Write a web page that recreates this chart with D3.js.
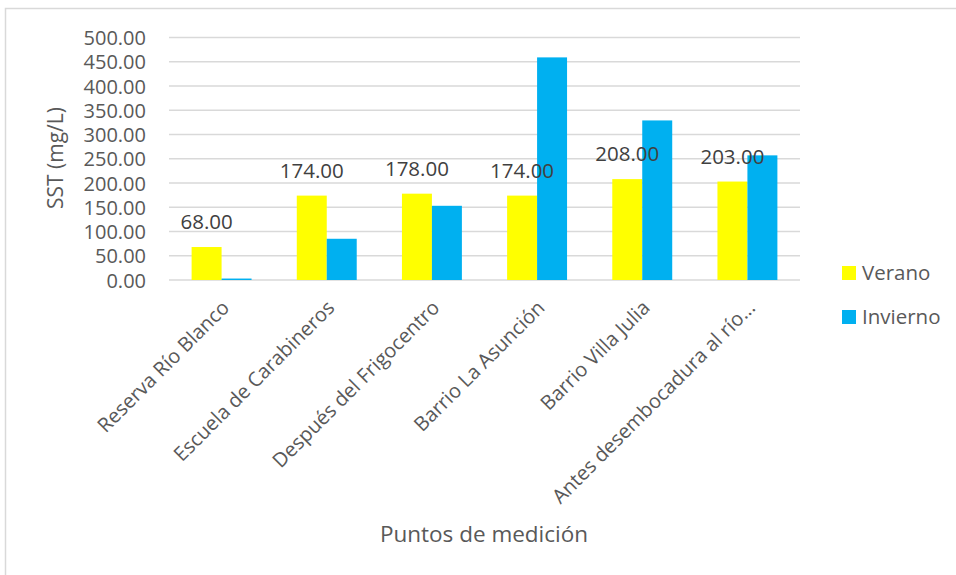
<!DOCTYPE html>
<html>
<head>
<meta charset="utf-8">
<script src="https://cdn.jsdelivr.net/npm/d3@7"></script>
<style>
  html, body { margin: 0; padding: 0; background: #fff; }
  svg { display: block; font-family: "Open Sans", "Noto Sans", sans-serif; }
</style>
</head>
<body>
<svg id="chart" width="956" height="575"></svg>
<script>
// Measurement points (x axis categories)
const categories = [
  "Reserva Río Blanco",
  "Escuela de Carabineros",
  "Después del Frigocentro",
  "Barrio La Asunción",
  "Barrio Villa Julia",
  "Antes desembocadura al río..."
];
// Series names
const seriesNames = ["Verano", "Invierno"];
// SST (mg/L) per season
const verano = [68, 174, 178, 174, 208, 203];
const invierno = [3, 85, 153, 459, 329, 257];
// Y axis ticks
const yTicks = [0, 50, 100, 150, 200, 250, 300, 350, 400, 450, 500];

const colors = { Verano: "#FFFF00", Invierno: "#00B0F0" };
const seriesValues = { Verano: verano, Invierno: invierno };

const svg = d3.select("#chart");

// Chart area frame (top and left edges visible)
svg.append("path")
  .attr("d", "M5.5,575 L5.5,8.5 L956,8.5")
  .attr("fill", "none")
  .attr("stroke", "#d9d9d9")
  .attr("stroke-width", 1.5);

const plot = { left: 169, right: 800, top: 37.5, bottom: 280 };

const y = d3.scaleLinear().domain([0, 500]).range([plot.bottom, plot.top]);
const x0 = d3.scaleBand().domain(categories)
  .range([plot.left, plot.right])
  .paddingInner(0.43).paddingOuter(0.215);
const x1 = d3.scaleBand().domain(seriesNames).range([0, x0.bandwidth()]);

// Gridlines
svg.append("g").selectAll("line").data(yTicks).join("line")
  .attr("x1", plot.left).attr("x2", plot.right)
  .attr("y1", d => y(d)).attr("y2", d => y(d))
  .attr("stroke", "#d9d9d9").attr("stroke-width", 1.3);

// Y axis tick labels
const yAxis = d3.axisLeft(y).tickValues(yTicks).tickFormat(d3.format(".2f")).tickSize(0).tickPadding(0);
const yg = svg.append("g").attr("transform", `translate(146,0)`).call(yAxis);
yg.select(".domain").remove();
yg.selectAll("text")
  .attr("fill", "#595959")
  .style("font-size", "20px")
  .style("font-family", "'Open Sans', sans-serif")
  .attr("dy", "0.35em");

// Bars
const groups = svg.append("g").selectAll("g").data(categories).join("g")
  .attr("transform", d => `translate(${x0(d)},0)`);
groups.selectAll("rect")
  .data((d, i) => seriesNames.map(s => ({ s, v: seriesValues[s][i] })))
  .join("rect")
  .attr("x", d => x1(d.s))
  .attr("width", x1.bandwidth())
  .attr("y", d => y(d.v))
  .attr("height", d => y(0) - y(d.v))
  .attr("fill", d => colors[d.s]);

// Data labels on the Verano series
svg.append("g").selectAll("text").data(verano).join("text")
  .attr("x", (d, i) => x0(categories[i]) + x1("Verano") + x1.bandwidth() / 2)
  .attr("y", d => y(d) - 18)
  .attr("text-anchor", "middle")
  .attr("fill", "#404040")
  .style("font-size", "20.5px")
  .text(d => d3.format(".2f")(d));

// X axis category labels, rotated
const xg = svg.append("g");
xg.selectAll("text").data(categories).join("text")
  .attr("transform", d => `translate(${x0(d) + x0.bandwidth() / 2 + 4},304) rotate(-45)`)
  .attr("text-anchor", "end")
  .attr("dy", "0.35em")
  .attr("fill", "#595959")
  .style("font-size", "20px")
  .text(d => d);

// Axis titles
svg.append("text")
  .attr("transform", "translate(63,158) rotate(-90)")
  .attr("text-anchor", "middle")
  .attr("fill", "#595959")
  .style("font-size", "21px")
  .text("SST (mg/L)");

svg.append("text")
  .attr("x", 484).attr("y", 542)
  .attr("text-anchor", "middle")
  .attr("fill", "#595959")
  .style("font-size", "22.5px")
  .text("Puntos de medición");

// Legend
const legend = svg.append("g").selectAll("g").data(seriesNames).join("g")
  .attr("transform", (d, i) => `translate(842,${266 + i * 44})`);
legend.append("rect")
  .attr("width", 14).attr("height", 14)
  .attr("fill", d => colors[d]);
legend.append("text")
  .attr("x", 20).attr("y", 7)
  .attr("dy", "0.35em")
  .attr("fill", "#595959")
  .style("font-size", "20.5px")
  .text(d => d);
</script>
</body>
</html>
